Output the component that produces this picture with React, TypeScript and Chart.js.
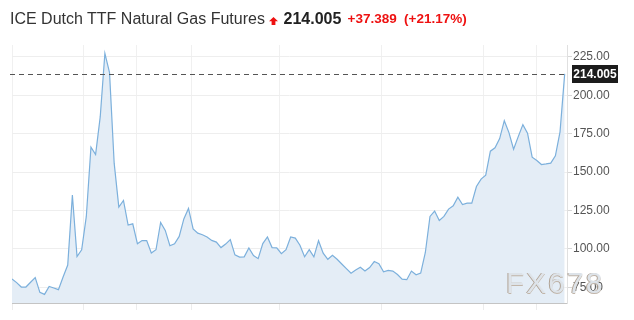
import React, { useEffect, useRef } from "react";
import { Chart, registerables } from "chart.js";

Chart.register(...registerables);

const chartTitle = "ICE Dutch TTF Natural Gas Futures";
const lastPriceText = "214.005";
const changeText = "+37.389";
const changePctText = "(+21.17%)";
const lastPrice = 214.005;

const prices: number[] = [
  80.3, 78.0, 75.1, 75.1, 78.2, 81.2, 71.6, 70.3, 75.5, 74.5,
  73.4, 81.6, 89.4, 135.0, 95.0, 99.4, 121.1, 166.2, 161.4, 186.1,
  227.4, 214.8, 155.8, 127.2, 131.5, 115.5, 116.3, 103.3, 105.4, 105.4,
  97.3, 99.4, 117.2, 112.0, 102.0, 103.3, 108.1, 119.5, 126.3, 113.0,
  110.2, 109.2, 107.7, 105.5, 104.4, 100.8, 103.1, 106.0, 96.1, 94.6,
  94.8, 100.6, 95.6, 93.6, 103.4, 107.7, 100.8, 100.6, 96.8, 99.5,
  107.7, 107.0, 102.3, 94.8, 99.5, 94.8, 105.3, 97.2, 93.2, 95.8,
  93.2, 90.1, 87.1, 84.1, 86.2, 88.0, 85.5, 87.8, 91.7, 90.3,
  85.0, 85.9, 85.5, 83.3, 80.3, 79.9, 85.5, 83.1, 84.2, 97.6,
  121.1, 124.6, 118.5, 121.1, 125.9, 128.0, 133.7, 128.9, 129.8, 129.8,
  140.6, 145.4, 148.0, 163.6, 165.8, 171.8, 183.5, 175.7, 164.9, 173.1,
  180.9, 175.3, 159.7, 157.5, 154.9, 155.3, 155.8, 160.6, 176.2, 214.005,
];

const yTickValues: number[] = [75, 100, 125, 150, 175, 200, 225];
const periodGridPositions: number[] = [0, 15.5, 26.9, 38.6, 57.5, 79.6, 101.5, 113];

const FONT = 'Arial, "Liberation Sans", sans-serif';

export default function App() {
  const canvasRef = useRef<HTMLCanvasElement | null>(null);

  useEffect(() => {
    const canvas = canvasRef.current;
    if (!canvas) return;

    const lastPricePlugin = {
      id: "lastPriceLine",
      afterDatasetsDraw(chart: any) {
        const { ctx, chartArea, scales } = chart;
        const y = Math.round(scales.y.getPixelForValue(lastPrice)) + 0.5;
        ctx.save();
        ctx.strokeStyle = "#555555";
        ctx.lineWidth = 1;
        ctx.setLineDash([5, 4]);
        ctx.beginPath();
        ctx.moveTo(10, y);
        ctx.lineTo(chartArea.right, y);
        ctx.stroke();
        ctx.restore();
      },
      afterDraw(chart: any) {
        const { ctx, chartArea, scales } = chart;
        const y = scales.y.getPixelForValue(lastPrice);
        const x = chartArea.right + 5;
        const w = 46;
        const h = 18;
        ctx.save();
        ctx.fillStyle = "#1c1c1c";
        ctx.fillRect(x, Math.round(y - h / 2), w, h);
        ctx.fillStyle = "#ffffff";
        ctx.font = "bold 12px " + FONT;
        ctx.textAlign = "center";
        ctx.textBaseline = "middle";
        ctx.fillText(lastPriceText, x + w / 2, Math.round(y) + 0.5);
        ctx.restore();
      },
    };

    const chart = new Chart(canvas, {
      type: "line",
      data: {
        datasets: [
          {
            data: prices.map((p, i) => ({ x: i, y: p })),
            borderColor: "#7cb0dc",
            backgroundColor: "#e4edf6",
            borderWidth: 1.2,
            pointRadius: 0,
            tension: 0,
            fill: "start",
          },
        ],
      },
      options: {
        responsive: false,
        animation: false,
        devicePixelRatio: 1,
        layout: { padding: { left: 12, top: 45, right: 0, bottom: 10 } },
        plugins: {
          legend: { display: false },
          tooltip: { enabled: false },
          title: { display: false },
        },
        font: { family: FONT },
        scales: {
          x: {
            type: "linear",
            position: "bottom",
            min: 0,
            max: 119.5,
            afterBuildTicks: (scale: any) => {
              scale.ticks = periodGridPositions.map((v) => ({ value: v }));
            },
            ticks: { display: false },
            grid: {
              color: "#f0f0f0",
              tickColor: "#ececec",
              tickLength: 7,
              drawTicks: true,
            },
            border: { display: true, color: "#c4c4c4", width: 1 },
          },
          y: {
            position: "right",
            min: 64.7,
            max: 232.8,
            afterBuildTicks: (scale: any) => {
              scale.ticks = yTickValues.map((v) => ({ value: v }));
            },
            afterFit: (scale: any) => {
              scale.width = 67;
            },
            ticks: {
              color: "#555555",
              font: { family: FONT, size: 12 },
              padding: 1,
              callback: (v: any) => Number(v).toFixed(2),
            },
            grid: {
              color: "#eeeeee",
              tickColor: "#d8d8d8",
              tickLength: 5,
              drawTicks: true,
            },
            border: { display: true, color: "#e0e0e0", width: 1 },
          },
        },
      },
      plugins: [lastPricePlugin],
    } as any);

    return () => chart.destroy();
  }, []);

  const base: React.CSSProperties = {
    position: "absolute",
    whiteSpace: "nowrap",
    lineHeight: "18px",
    fontFamily: FONT,
  };

  return (
    <div
      style={{
        position: "fixed",
        left: 0,
        top: 0,
        width: 634,
        height: 320,
        background: "#ffffff",
        overflow: "hidden",
      }}
    >
      <canvas
        ref={canvasRef}
        width={634}
        height={320}
        style={{ position: "absolute", left: 0, top: 0, width: 634, height: 320 }}
      />
      <span style={{ ...base, left: 10, top: 10, fontSize: 16, color: "#333333" }}>
        {chartTitle}
      </span>
      <svg
        width={9}
        height={8}
        viewBox="0 0 9 8"
        style={{ position: "absolute", left: 268.5, top: 16.5 }}
      >
        <polygon points="4.5,0 9,4.2 6.4,4.2 6.4,8 2.6,8 2.6,4.2 0,4.2" fill="#ee1111" />
      </svg>
      <span
        style={{ ...base, left: 283.5, top: 10, fontSize: 16, fontWeight: "bold", color: "#222222" }}
      >
        {lastPriceText}
      </span>
      <span
        style={{ ...base, left: 347.5, top: 10.3, fontSize: 13.5, fontWeight: "bold", color: "#ee1111" }}
      >
        {changeText}
      </span>
      <span
        style={{ ...base, left: 404, top: 10.3, fontSize: 13.5, fontWeight: "bold", color: "#ee1111" }}
      >
        {changePctText}
      </span>
      <span
        style={{
          position: "absolute",
          left: 506,
          top: 268,
          fontFamily: FONT,
          fontSize: 30,
          lineHeight: "30px",
          letterSpacing: 2,
          color: "rgba(226,234,242,0.9)",
          textShadow: "-1px 0 0 #b0a294, 0 1px 0 #c2b6aa",
          whiteSpace: "nowrap",
          pointerEvents: "none",
        }}
      >
        FX678
      </span>
    </div>
  );
}
